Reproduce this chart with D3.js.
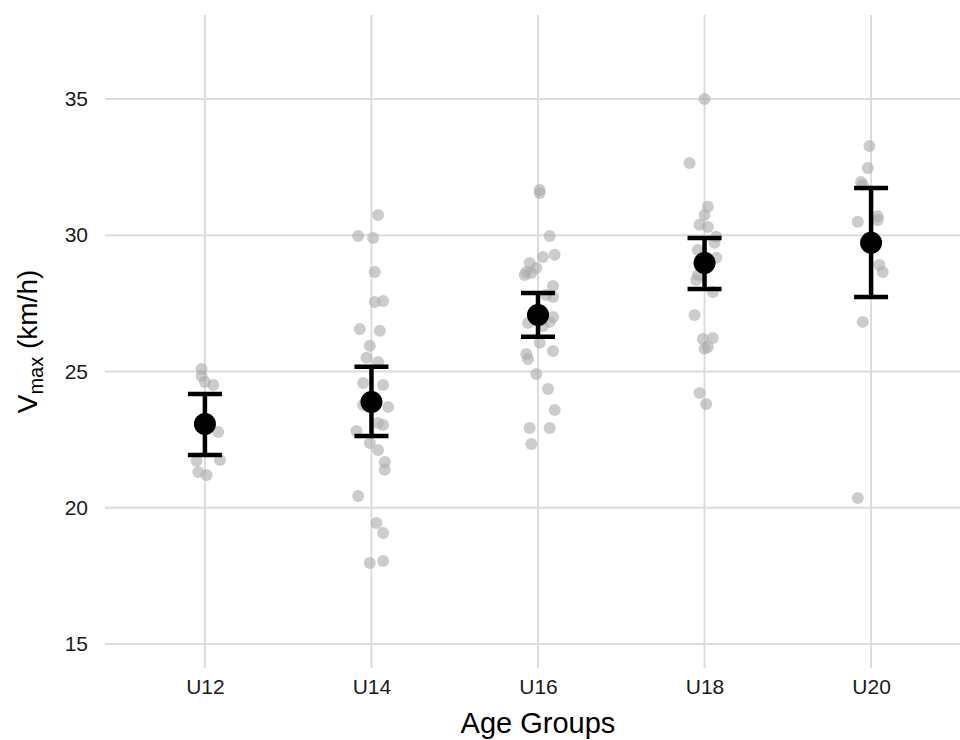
<!DOCTYPE html>
<html>
<head>
<meta charset="utf-8">
<script src="https://cdn.jsdelivr.net/npm/d3@7"></script>
<style>
  body { margin: 0; background: #fff; }
  svg text { font-family: "Liberation Sans", Arial, sans-serif; }
</style>
</head>
<body>
<div id="chart"></div>
<script>
// age groups on the x axis
const groups = ["U12", "U14", "U16", "U18", "U20"];
const yTicks = [15, 20, 25, 30, 35];

// individual players: [Vmax km/h, jitter in category steps]
const pointsU12 = [[25.09, -0.02], [24.83, -0.02], [24.61, 0], [24.5, 0.05], [22.78, 0.08],
  [21.72, -0.05], [21.75, 0.09], [21.31, -0.04], [21.2, 0.01]];
const pointsU14 = [[30.74, 0.04], [29.97, -0.08], [29.9, 0.01], [28.65, 0.02], [27.55, 0.02],
  [27.59, 0.07], [26.56, -0.07], [26.49, 0.05], [25.94, -0.01], [25.5, -0.03], [25.35, 0.04],
  [24.58, -0.05], [24.5, 0.07], [23.77, -0.05], [23.7, 0.1], [23.11, 0.04], [23.04, 0.07],
  [22.82, -0.09], [22.38, -0.01], [22.12, 0.04], [21.68, 0.08], [21.39, 0.08], [20.43, -0.08],
  [19.44, 0.03], [19.07, 0.07], [17.97, -0.01], [18.05, 0.07]];
const pointsU16 = [[31.66, 0.01], [31.55, 0.01], [29.97, 0.07], [29.28, 0.1], [29.2, 0.03],
  [28.98, -0.05], [28.8, -0.01], [28.65, -0.07], [28.61, -0.04], [28.54, -0.08], [28.14, 0.09],
  [27.81, 0.05], [27.73, 0.09], [27.15, 0.03], [27.0, 0.09], [26.82, 0.07], [26.78, -0.06],
  [26.67, 0.03], [26.05, 0.01], [25.75, 0.09], [25.64, -0.07], [25.46, -0.06], [24.91, -0.01],
  [24.36, 0.06], [23.59, 0.1], [22.93, -0.05], [22.93, 0.07], [22.34, -0.04]];
const pointsU18 = [[35.0, 0], [32.65, -0.09], [31.04, 0.02], [30.74, 0], [30.38, -0.03],
  [30.3, 0.02], [29.94, 0.07], [29.72, 0.06], [29.46, -0.04], [29.17, 0.01], [29.17, 0.07],
  [28.54, -0.04], [28.36, -0.05], [27.92, 0.05], [27.07, -0.06], [26.19, -0.01], [26.23, 0.05],
  [25.83, 0], [25.9, 0.02], [24.21, -0.03], [23.81, 0.01]];
const pointsU20 = [[33.27, -0.01], [32.47, -0.02], [31.95, -0.06], [31.84, -0.05], [30.7, 0.04],
  [30.56, 0.04], [30.49, -0.08], [28.91, 0.05], [28.65, 0.07], [26.82, -0.05], [20.36, -0.08]];

// group means and interval limits
const means = [23.07, 23.88, 27.07, 28.98, 29.72];
const lower = [21.94, 22.63, 26.27, 28.03, 27.73];
const upper = [24.17, 25.17, 27.88, 29.9, 31.73];

const allPoints = [pointsU12, pointsU14, pointsU16, pointsU18, pointsU20];

const width = 960, height = 740;
const margin = { left: 105, right: -11, top: 15, bottom: 72 };

const svg = d3.select("#chart").append("svg")
  .attr("width", width)
  .attr("height", height);

const x = d3.scalePoint()
  .domain(groups)
  .range([margin.left, width - margin.right])
  .padding(0.6);
const step = x.step();

const y = d3.scaleLinear()
  .domain([14.12, 38.08])
  .range([height - margin.bottom, margin.top]);

// grid
const grid = svg.append("g").attr("stroke", "#dcdcdc").attr("stroke-width", 2);
grid.selectAll("line.h").data(yTicks).join("line")
  .attr("class", "h")
  .attr("x1", margin.left).attr("x2", width)
  .attr("y1", d => y(d)).attr("y2", d => y(d));
grid.selectAll("line.v").data(groups).join("line")
  .attr("class", "v")
  .attr("x1", d => x(d)).attr("x2", d => x(d))
  .attr("y1", margin.top).attr("y2", height - margin.bottom);

// y axis labels
const yAxis = d3.axisLeft(y).tickValues(yTicks).tickSize(0).tickPadding(17);
svg.append("g")
  .attr("transform", `translate(${margin.left},0)`)
  .call(yAxis)
  .call(g => g.select(".domain").remove())
  .selectAll("text")
  .style("font-size", "21px")
  .attr("fill", "#1a1a1a");

// x axis labels
const xAxis = d3.axisBottom(x).tickSize(0).tickPadding(11);
svg.append("g")
  .attr("transform", `translate(0,${height - margin.bottom})`)
  .call(xAxis)
  .call(g => g.select(".domain").remove())
  .selectAll("text")
  .style("font-size", "21px")
  .attr("fill", "#1a1a1a");

// raw points
const flat = [];
allPoints.forEach((pts, i) => pts.forEach(p => flat.push({ g: groups[i], v: p[0], j: p[1] })));
svg.append("g").selectAll("circle").data(flat).join("circle")
  .attr("cx", d => x(d.g) + d.j * step)
  .attr("cy", d => y(d.v))
  .attr("r", 6)
  .attr("fill", "#aaaaaa")
  .attr("fill-opacity", 0.6);

// error bars + means
const summary = groups.map((g, i) => ({ g, m: means[i], lo: lower[i], hi: upper[i] }));
const capW = 17;
const eb = svg.append("g").attr("stroke", "#000").attr("stroke-width", 4.5);
eb.selectAll("line.stem").data(summary).join("line")
  .attr("x1", d => x(d.g)).attr("x2", d => x(d.g))
  .attr("y1", d => y(d.lo)).attr("y2", d => y(d.hi));
eb.selectAll("line.top").data(summary).join("line")
  .attr("x1", d => x(d.g) - capW).attr("x2", d => x(d.g) + capW)
  .attr("y1", d => y(d.hi)).attr("y2", d => y(d.hi));
eb.selectAll("line.bot").data(summary).join("line")
  .attr("x1", d => x(d.g) - capW).attr("x2", d => x(d.g) + capW)
  .attr("y1", d => y(d.lo)).attr("y2", d => y(d.lo));
svg.append("g").selectAll("circle").data(summary).join("circle")
  .attr("cx", d => x(d.g))
  .attr("cy", d => y(d.m))
  .attr("r", 11)
  .attr("fill", "#000");

// axis titles
svg.append("text")
  .attr("x", (margin.left + width - margin.right) / 2)
  .attr("y", 733)
  .attr("text-anchor", "middle")
  .style("font-size", "29px")
  .attr("fill", "#000")
  .text("Age Groups");

const yt = svg.append("text")
  .attr("transform", `translate(37,${(margin.top + height - margin.bottom) / 2}) rotate(-90)`)
  .attr("text-anchor", "middle")
  .style("font-size", "28px")
  .attr("fill", "#000");
yt.append("tspan").text("V");
yt.append("tspan").attr("dy", 6).style("font-size", "20px").text("max");
yt.append("tspan").attr("dy", -6).text(" (km/h)");
</script>
</body>
</html>
